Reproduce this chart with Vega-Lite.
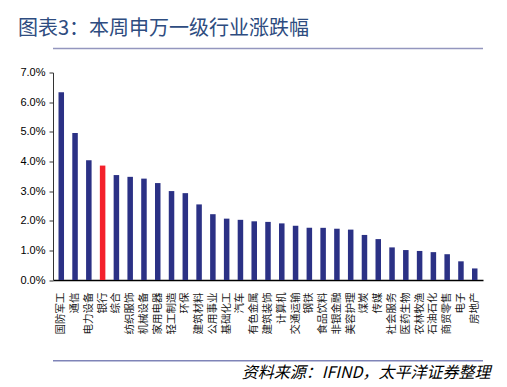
{
  "$schema": "https://vega.github.io/schema/vega-lite/v6.json",
  "width": 430,
  "height": 207.5,
  "autosize": {"type": "none"},
  "padding": {"left": 53, "top": 72.5, "right": 24, "bottom": 107},
  "background": "white",
  "title": {
    "text": "图表3：本周申万一级行业涨跌幅",
    "anchor": "start",
    "frame": "group",
    "dx": -35,
    "offset": 9,
    "font": "Noto Sans CJK SC",
    "fontSize": 20,
    "fontWeight": "normal",
    "color": "#2E4C80"
  },
  "config": {
    "view": {"stroke": null},
    "font": "Noto Sans CJK SC"
  },
  "resolve": {"axis": {"y": "independent"}},
  "layer": [
    {
      "data": {
        "values": [
          {"name": "国防军工", "v": 0.0633},
          {"name": "通信", "v": 0.0496},
          {"name": "电力设备", "v": 0.0404},
          {"name": "银行", "v": 0.0386},
          {"name": "综合", "v": 0.0354},
          {"name": "纺织服饰", "v": 0.0348},
          {"name": "机械设备", "v": 0.0342},
          {"name": "家用电器", "v": 0.0327},
          {"name": "轻工制造", "v": 0.0300},
          {"name": "环保", "v": 0.0293},
          {"name": "建筑材料", "v": 0.0255},
          {"name": "公用事业", "v": 0.0222},
          {"name": "基础化工", "v": 0.0207},
          {"name": "汽车", "v": 0.0203},
          {"name": "有色金属", "v": 0.0198},
          {"name": "建筑装饰", "v": 0.0196},
          {"name": "计算机", "v": 0.0191},
          {"name": "交通运输", "v": 0.0183},
          {"name": "钢铁", "v": 0.0176},
          {"name": "食品饮料", "v": 0.0176},
          {"name": "非银金融", "v": 0.0173},
          {"name": "美容护理", "v": 0.0170},
          {"name": "煤炭", "v": 0.0152},
          {"name": "传媒", "v": 0.0138},
          {"name": "社会服务", "v": 0.0110},
          {"name": "医药生物", "v": 0.0101},
          {"name": "农林牧渔", "v": 0.0098},
          {"name": "石油石化", "v": 0.0094},
          {"name": "商贸零售", "v": 0.0087},
          {"name": "电子", "v": 0.0063},
          {"name": "房地产", "v": 0.0039}
        ]
      },
      "mark": {"type": "bar"},
      "encoding": {
        "x": {
          "field": "name",
          "type": "nominal",
          "sort": null,
          "scale": {"paddingInner": 0.6, "paddingOuter": 0.4},
          "axis": {
            "title": "资料来源：IFIND，太平洋证券整理",
            "titleFont": "Noto Sans CJK SC",
            "titleFontStyle": "italic",
            "titleFontWeight": "normal",
            "titleFontSize": 16,
            "titleColor": "#000000",
            "titleAnchor": "end",
            "titleAlign": "right",
            "titleBaseline": "alphabetic",
            "titleX": 437,
            "titleY": 97,
            "labelAngle": -90,
            "labelFontSize": 10.5,
            "labelColor": "#1a1a1a",
            "labelPadding": 12,
            "ticks": false,
            "domainColor": "#000000",
            "domainWidth": 1.5
          }
        },
        "y": {
          "field": "v",
          "type": "quantitative",
          "scale": {"domain": [0, 0.07], "nice": false},
          "axis": {
            "title": null,
            "format": ".1%",
            "values": [0, 0.01, 0.02, 0.03, 0.04, 0.05, 0.06, 0.07],
            "labelOverlap": false,
            "grid": false,
            "labelFont": "Liberation Sans",
            "labelFontSize": 11,
            "labelColor": "#000000",
            "tickSize": 4,
            "tickColor": "#333333",
            "domainColor": "#333333",
            "labelPadding": 4
          }
        },
        "color": {
          "condition": {"test": "datum.name === '银行'", "value": "#F4212B"},
          "value": "#2B3185"
        }
      }
    },
    {
      "data": {"values": [{}]},
      "mark": {"type": "rule", "color": "#9496BE", "strokeWidth": 1.5},
      "encoding": {
        "y": {"datum": 0.0781, "type": "quantitative", "scale": {"domain": [0, 0.07], "nice": false}, "axis": null},
        "x": {"value": 0},
        "x2": {"value": {"expr": "width"}}
      }
    },
    {
      "data": {"values": [{}]},
      "mark": {"type": "rule", "color": "#7F84B8", "strokeWidth": 1.5},
      "encoding": {
        "y": {"datum": -0.0272, "type": "quantitative", "scale": {"domain": [0, 0.07], "nice": false}, "axis": null},
        "x": {"value": 0},
        "x2": {"value": {"expr": "width"}}
      }
    }
  ]
}
